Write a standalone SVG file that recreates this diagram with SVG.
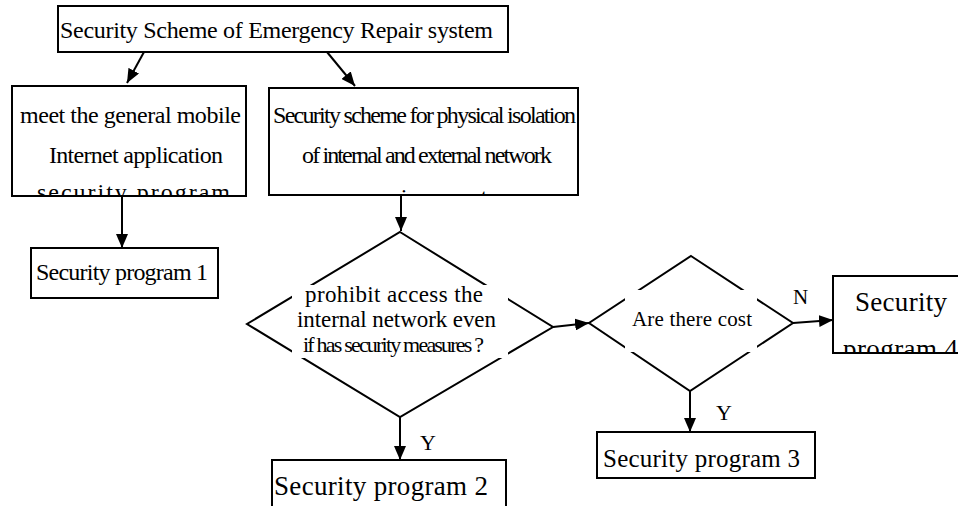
<svg xmlns="http://www.w3.org/2000/svg" width="958" height="506" viewBox="0 0 958 506">
  <defs>
    <marker id="arrow" viewBox="0 0 14 12" refX="14" refY="6" markerWidth="14" markerHeight="12" markerUnits="userSpaceOnUse" orient="auto">
      <path d="M0,0 L14,6 L0,12 Z" fill="#000"/>
    </marker>
    <clipPath id="clipLeft"><rect x="12" y="86" width="234" height="110"/></clipPath>
    <clipPath id="clipRight"><rect x="269" y="88" width="309" height="107"/></clipPath>
    <clipPath id="clipP4"><rect x="833" y="276" width="125" height="77"/></clipPath>
  </defs>
  <style>
    .box { fill: #fff; stroke: #000; stroke-width: 2; }
    .dia { fill: #fff; stroke: #000; stroke-width: 2; }
    .mask { fill: #fff; stroke: none; }
    .t { font-family: "Liberation Serif", "Times New Roman", serif; fill: #000; }
    .link { fill: none; stroke: #000; stroke-width: 2; marker-end: url(#arrow); }
  </style>
  <rect width="958" height="506" fill="#fff"/>

  <g id="connectors">
    <line class="link" x1="144" y1="52" x2="127" y2="83"/>
    <line class="link" x1="327" y1="52" x2="355" y2="86"/>
    <line class="link" x1="122" y1="196" x2="122" y2="248"/>
    <line class="link" x1="401" y1="195" x2="401" y2="231"/>
    <line class="link" x1="400" y1="417" x2="400" y2="460"/>
    <line class="link" x1="553" y1="327" x2="589" y2="323"/>
    <line class="link" x1="690" y1="391" x2="690" y2="432"/>
    <line class="link" x1="793" y1="323" x2="833" y2="320"/>
    <text class="t" x="420" y="450" font-size="22">Y</text>
    <text class="t" x="716" y="420" font-size="22">Y</text>
    <text class="t" x="793" y="304" font-size="21">N</text>
  </g>

  <g id="root">
    <rect class="box" x="58" y="6" width="450" height="46"/>
    <text class="t" x="60" y="38" font-size="24" textLength="433">Security Scheme of Emergency Repair system</text>
  </g>

  <g id="mobile">
    <rect class="box" x="12" y="86" width="234" height="110"/>
    <g clip-path="url(#clipLeft)">
      <text class="t" x="20" y="123" font-size="24" textLength="221">meet the general mobile</text>
      <text class="t" x="49" y="163" font-size="24" textLength="174">Internet application</text>
      <text class="t" x="37" y="200" font-size="24" textLength="193">security program</text>
    </g>
  </g>

  <g id="isolation">
    <rect class="box" x="269" y="88" width="309" height="107"/>
    <g clip-path="url(#clipRight)">
      <text class="t" x="273" y="123" font-size="24" textLength="303">Security scheme for physical isolation</text>
      <text class="t" x="302" y="163" font-size="24" textLength="250">of internal and external network</text>
      <text class="t" x="366" y="205" font-size="24">environment</text>
    </g>
  </g>

  <g id="program1">
    <rect class="box" x="31" y="248" width="187" height="50"/>
    <text class="t" x="36" y="280" font-size="24" textLength="172">Security program 1</text>
  </g>

  <g id="decision-access">
    <polygon class="dia" points="400,232 553,327 400,417 247,324"/>
    <rect class="mask" x="292" y="285" width="216" height="73"/>
    <text class="t" x="305" y="302" font-size="23" textLength="178">prohibit access the</text>
    <text class="t" x="297" y="327" font-size="23" textLength="199">internal network even</text>
    <text class="t" x="303" y="352" font-size="22" textLength="181">if has security measures ?</text>
  </g>

  <g id="program2">
    <rect class="box" x="272" y="460" width="234" height="50"/>
    <text class="t" x="274" y="495" font-size="27" textLength="214">Security program 2</text>
  </g>

  <g id="decision-cost">
    <polygon class="dia" points="691,256 793,323 690,391 589,323"/>
    <rect class="mask" x="625" y="290" width="132" height="62"/>
    <text class="t" x="632" y="326" font-size="21" textLength="120">Are there cost</text>
  </g>

  <g id="program3">
    <rect class="box" x="597" y="432" width="218" height="46"/>
    <text class="t" x="603" y="467" font-size="25" textLength="197">Security program 3</text>
  </g>

  <g id="program4">
    <rect class="box" x="833" y="276" width="130" height="77"/>
    <g clip-path="url(#clipP4)">
      <text class="t" x="855" y="311" font-size="27" textLength="92">Security</text>
      <text class="t" x="843" y="358" font-size="27" textLength="115">program 4</text>
    </g>
  </g>
</svg>
